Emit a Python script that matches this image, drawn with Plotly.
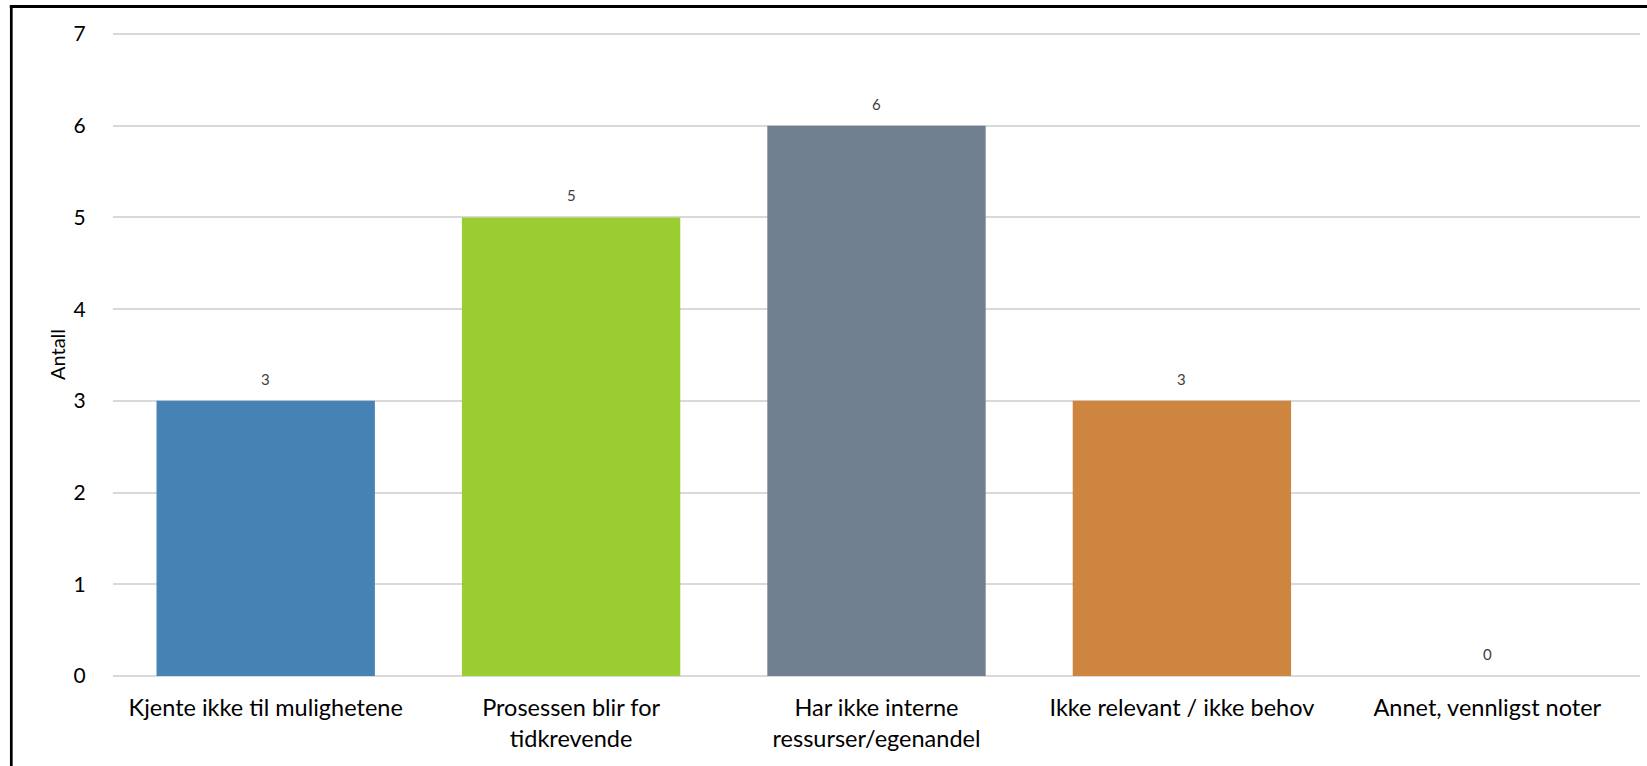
import plotly.graph_objects as go

categories = [
    "Kjente ikke til mulighetene",
    "Prosessen blir for<br>tidkrevende",
    "Har ikke interne<br>ressurser/egenandel",
    "Ikke relevant / ikke behov",
    "Annet, vennligst noter",
]
values = [3, 5, 6, 3, 0]
colors = ["#4682B4", "#9ACD32", "#708090", "#CD853F", "#A5A5A5"]
y_title = "Antall"
y_ticks = [0, 1, 2, 3, 4, 5, 6, 7]

FONT = "Lato, 'Open Sans', sans-serif"

fig = go.Figure()
fig.add_trace(go.Bar(
    x=categories,
    y=values,
    marker=dict(color=colors, line=dict(width=0)),
    hoverinfo="skip",
    showlegend=False,
))

for c, v in zip(categories, values):
    fig.add_annotation(
        x=c, y=v, text=str(v), showarrow=False,
        yanchor="bottom", yshift=11,
        font=dict(family=FONT, size=15, color="#404040"),
    )

# plot area: x 113..1640, y 34 (value 7) .. 676 (value 0)
L, R, T, B = 113, 1647 - 1640, 33, 766 - 676
PW = 1647 - L - R
PH = 766 - T - B

# outer frame (left and top edges as in the reference)
fx = (11.3 - L) / PW
fy = 1 + (T - 6.5) / PH
fig.add_shape(type="line", xref="paper", yref="paper",
              x0=fx, x1=fx, y0=fy, y1=-0.2,
              line=dict(color="black", width=2.7))
fig.add_shape(type="line", xref="paper", yref="paper",
              x0=fx - 0.001, x1=1.01, y0=fy, y1=fy,
              line=dict(color="black", width=3))

fig.update_layout(
    width=1647, height=766,
    margin=dict(l=L, r=R, t=T, b=B),
    paper_bgcolor="white", plot_bgcolor="white",
    bargap=0.285,
    font=dict(family=FONT, size=23, color="#000000"),
    xaxis=dict(
        showgrid=False, showline=False, zeroline=False,
        ticks="outside", ticklen=11, tickcolor="rgba(0,0,0,0)",
        tickfont=dict(family=FONT, size=23.5, color="#000000"),
    ),
    yaxis=dict(
        range=[0, 7.011], tickvals=y_ticks,
        showgrid=True, gridcolor="#d9d9d9", gridwidth=1.5,
        zeroline=True, zerolinecolor="#d9d9d9", zerolinewidth=1.5,
        showline=False,
        ticks="outside", ticklen=22, tickcolor="rgba(0,0,0,0)",
        tickfont=dict(family=FONT, size=21, color="#000000"),
        title=dict(text=y_title, font=dict(family=FONT, size=20, color="#000000"), standoff=2),
    ),
)

fig.write_html(
    "out.html",
    config={"displayModeBar": False},
    post_script="document.body.style.margin='0';document.body.style.overflow='hidden';",
)
